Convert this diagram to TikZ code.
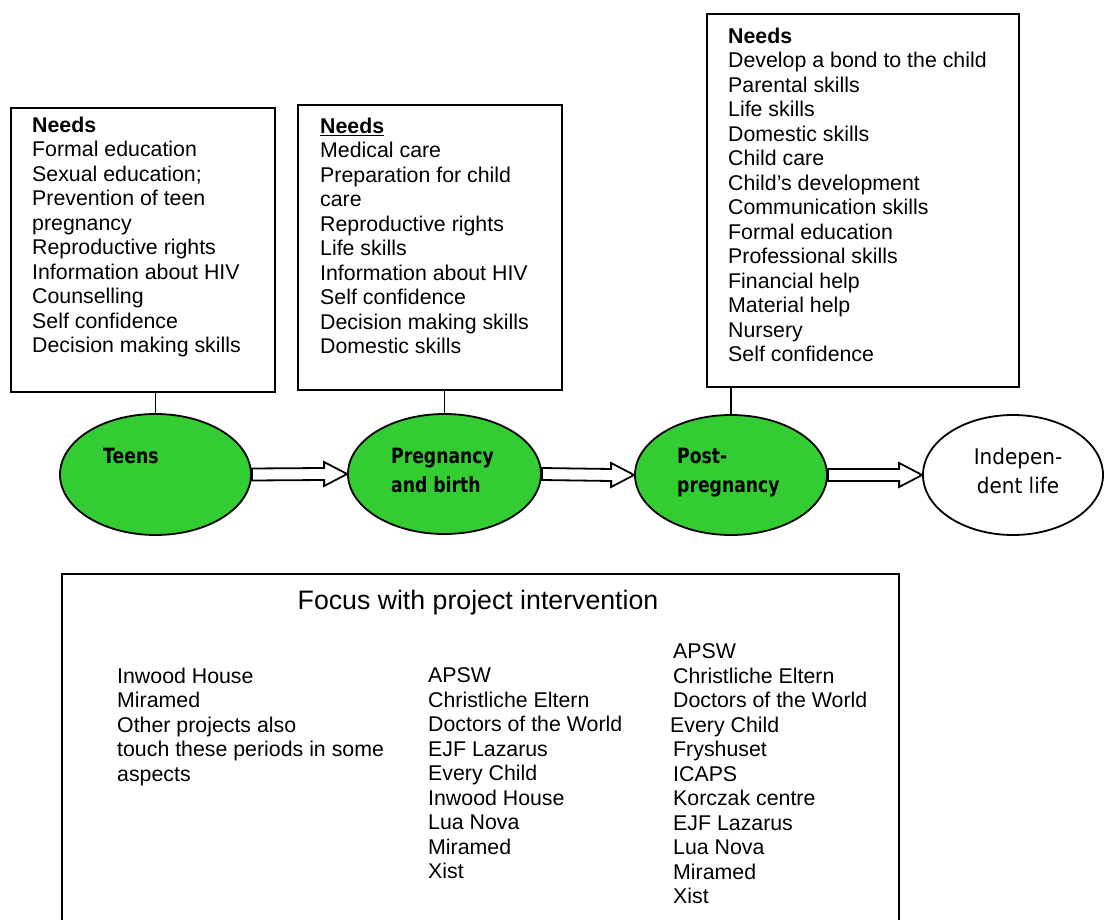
\documentclass[tikz,border=0pt]{standalone}
\usepackage{fontspec}
\setmainfont{Liberation Sans}
\newfontfamily\comicb[FakeStretch=0.82]{DejaVu Sans}
\newfontfamily\comicr[FakeStretch=0.93]{DejaVu Sans}
\usetikzlibrary{shapes.geometric,calc}
\definecolor{stagegreen}{RGB}{51,204,51}
\tikzset{
  box/.style={draw, line width=2pt, rectangle, inner sep=0pt, outer sep=0pt},
  needs/.style={anchor=north west, inner sep=0pt, align=left, font={\fontsize{21.33}{24.5}\selectfont}},
  stage/.style={ellipse, draw, line width=1.8pt, fill=stagegreen, inner sep=0pt},
  freestage/.style={ellipse, draw, line width=1.8pt, fill=white, inner sep=0pt},
  stagetext/.style={anchor=north west, inner sep=0pt, align=left, font={\comicb\bfseries\fontsize{21}{29}\selectfont}},
  freetext/.style={anchor=north, inner sep=0pt, align=center, font={\comicr\fontsize{21.5}{29}\selectfont}},
  conn/.style={line width=1.3pt},
  blockarrow/.style={draw, line width=1.8pt, fill=white, line join=miter},
  title/.style={anchor=north, inner sep=0pt, font={\fontsize{26.7}{30}\selectfont}}
}
\begin{document}
\begin{tikzpicture}[x=1pt,y=-1pt]
\useasboundingbox (0,0) rectangle (1104,920);
\clip (0,0) rectangle (1104,920);
\fill[white] (0,0) rectangle (1104,920);

% Needs boxes
\node[box, minimum width=264pt, minimum height=284pt] (box1) at (143,250) {};
\node[box, minimum width=264pt, minimum height=285pt] (box2) at (430,247.5) {};
\node[box, minimum width=312pt, minimum height=373pt] (box3) at (863,200.5) {};

\node[needs] (t1) at (32,116.7) {\textbf{Needs}\\Formal education\\Sexual education;\\Prevention of teen\\pregnancy\\Reproductive rights\\Information about HIV\\Counselling\\Self confidence\\Decision making skills};
\node[needs] (t2) at (320,117.7) {\textbf{\underline{Needs}}\\Medical care\\Preparation for child\\care\\Reproductive rights\\Life skills\\Information about HIV\\Self confidence\\Decision making skills\\Domestic skills};
\node[needs] (t3) at (728,27.7) {\textbf{Needs}\\Develop a bond to the child\\Parental skills\\Life skills\\Domestic skills\\Child care\\Child’s development\\Communication skills\\Formal education\\Professional skills\\Financial help\\Material help\\Nursery\\Self confidence};

% stages
\node[stage, minimum width=191pt, minimum height=121pt] (teens) at (155.5,474.5) {};
\node[stage, minimum width=193pt, minimum height=120pt] (preg) at (444.5,474) {};
\node[stage, minimum width=192pt, minimum height=120pt] (post) at (731,475) {};
\node[freestage, minimum width=180pt, minimum height=120pt] (indep) at (1013,475) {};

\node[stagetext] (teenst) at (103,447.7) {Teens};
\node[stagetext] (pregt) at (391,447.7) {Pregnancy\\and birth};
\node[stagetext] (postt) at (677,447.7) {Post-\\pregnancy};
\node[freetext] (indept) at (1018,447.7) {Indepen-\\dent life};

% connectors box -> stage
\draw[conn] (teens.north) -- (teens.north |- box1.south);
\draw[conn] (preg.north) -- (preg.north |- box2.south);
\draw[conn] (post.north) -- (post.north |- box3.south);

% block arrows
\draw[blockarrow] ($(teens.east)+(0,-6)$) -- ($(preg.west)+(-23,-6)$) -- ($(preg.west)+(-23,-12)$) -- (preg.west) -- ($(preg.west)+(-23,12)$) -- ($(preg.west)+(-23,6)$) -- ($(teens.east)+(0,6)$) -- cycle;
\draw[blockarrow] ($(preg.east)+(0,-6)$) -- ($(post.west)+(-23,-6)$) -- ($(post.west)+(-23,-12)$) -- (post.west) -- ($(post.west)+(-23,12)$) -- ($(post.west)+(-23,6)$) -- ($(preg.east)+(0,6)$) -- cycle;
\draw[blockarrow] ($(post.east)+(0,-6)$) -- ($(indep.west)+(-23,-6)$) -- ($(indep.west)+(-23,-12)$) -- (indep.west) -- ($(indep.west)+(-23,12)$) -- ($(indep.west)+(-23,6)$) -- ($(post.east)+(0,6)$) -- cycle;

% focus box
\node[box, minimum width=837pt, minimum height=380pt] (focus) at (480.5,764) {};
\node[title] (ftitle) at (478,590) {Focus with project intervention};
\node[needs] (c1) at (117,667.7) {Inwood House\\Miramed\\Other projects also\\touch these periods in some\\aspects};
\node[needs] (c2) at (428,667.7) {APSW\\Christliche Eltern\\Doctors of the World\\EJF Lazarus\\Every Child\\Inwood House\\Lua Nova\\Miramed\\Xist};
\node[needs] (c3) at (673,643.7) {APSW\\Christliche Eltern\\Doctors of the World\\\hspace*{-3pt}Every Child\\Fryshuset\\ICAPS\\Korczak centre\\EJF Lazarus\\Lua Nova\\Miramed\\Xist};
\end{tikzpicture}
\end{document}
